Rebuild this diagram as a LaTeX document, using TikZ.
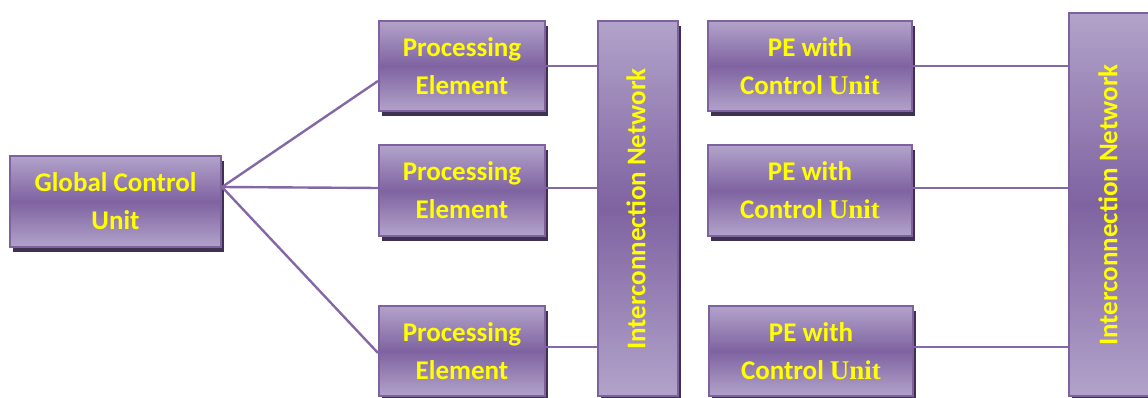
\documentclass[tikz,border=0pt]{standalone}
\usepackage{fontspec}
\setmainfont{Carlito}
\newfontfamily\unitfont{Liberation Serif}
\usetikzlibrary{shadows}

\definecolor{boxedge}{HTML}{7E62A0}
\definecolor{boxlight}{HTML}{B2A3CA}
\definecolor{boxdark}{HTML}{7F63A1}
\definecolor{boxshade}{HTML}{3F3151}
\definecolor{linkcol}{HTML}{8468A6}
\definecolor{labelyellow}{HTML}{FFFF00}

\begin{document}
\begin{tikzpicture}[x=1pt,y=-1pt,
  block/.style={draw=boxedge, line width=2pt,
    top color=boxlight, bottom color=boxlight, middle color=boxdark,
    drop shadow={shadow xshift=3pt, shadow yshift=-5pt, fill=boxshade, opacity=1},
    inner sep=0pt, align=center, text=labelyellow,
    font=\bfseries\fontsize{27}{38}\selectfont},
  pebox/.style={block, minimum width=166pt, minimum height=90pt},
  cubox/.style={block, minimum width=204pt, minimum height=90pt},
  netbox/.style={block, minimum width=80pt},
  netlabel/.style={rotate=90, text=labelyellow, inner sep=0pt,
    font=\bfseries\fontsize{27}{30}\selectfont},
  link/.style={draw=linkcol, line width=2.4pt}]

\path[use as bounding box, clip] (0,0) rectangle (1148,398);

% control unit
\node[block, minimum width=211pt, minimum height=91pt] (gcu) at (115.5,201.5) {Global Control\\Unit};

% processing elements
\node[pebox] (pe1) at (462,66) {Processing\\Element};
\node[pebox] (pe2) at (462,190.5) {Processing\\Element};
\node[pebox] (pe3) at (462,351) {Processing\\Element};

% first interconnection network
\node[netbox, minimum height=375pt] (in1) at (638,208.5) {};
\node[netlabel] (in1t) at (636,209) {Interconnection Network};

% processing elements with own control units
\node[cubox] (cu1) at (810,66) {PE with\\Control {\unitfont\bfseries Unit}};
\node[cubox] (cu2) at (810,190.5) {PE with\\Control {\unitfont\bfseries Unit}};
\node[cubox] (cu3) at (811,351) {PE with\\Control {\unitfont\bfseries Unit}};

% second interconnection network
\node[netbox, minimum height=383pt, minimum width=90pt] (in2) at (1114,204.5) {};
\node[netlabel] (in2t) at (1108,205) {Interconnection Network};

% fan-out from the control unit
\draw[link] ([yshift=14.5pt]gcu.east) -- ([yshift=-15pt]pe1.west);
\draw[link] ([yshift=14.5pt]gcu.east) -- ([yshift=2.5pt]pe2.west);
\draw[link] ([yshift=14.5pt]gcu.east) -- ([yshift=-2pt]pe3.west);

% elements to the first network
\draw[link] (pe1.east) -- (pe1.east -| in1.west);
\draw[link] ([yshift=2.5pt]pe2.east) coordinate (p2) -- (p2 -| in1.west);
\draw[link] ([yshift=4pt]pe3.east) coordinate (p3) -- (p3 -| in1.west);

% elements to the second network
\draw[link] (cu1.east) -- (cu1.east -| in2.west);
\draw[link] ([yshift=2.5pt]cu2.east) coordinate (c2) -- (c2 -| in2.west);
\draw[link] ([yshift=4pt]cu3.east) coordinate (c3) -- (c3 -| in2.west);
\end{tikzpicture}
\end{document}
